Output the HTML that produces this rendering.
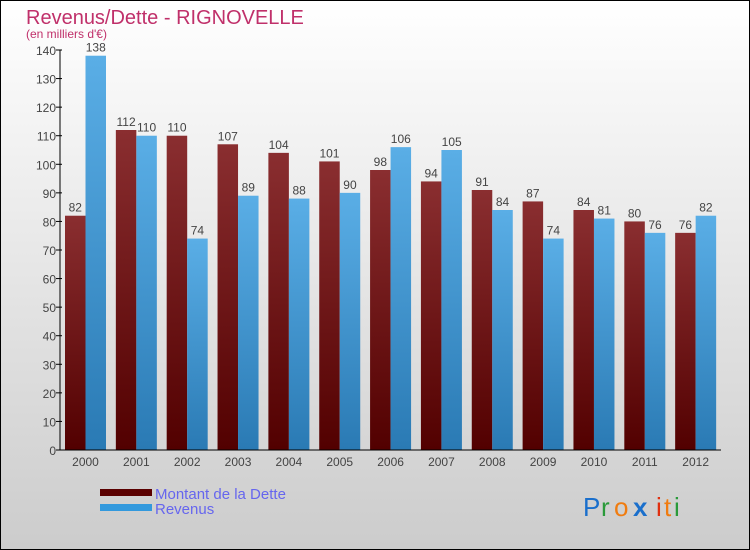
<!DOCTYPE html>
<html><head><meta charset="utf-8"><style>
body{margin:0}
#c{width:750px;height:550px;position:relative;overflow:hidden;font-family:"Liberation Sans",sans-serif}
</style></head><body>
<div id="c">
<svg id="s" width="750" height="550" xmlns="http://www.w3.org/2000/svg">
<defs>
<linearGradient id="bg" x1="0" y1="0" x2="0" y2="1"><stop offset="0" stop-color="#ffffff"/><stop offset="1" stop-color="#cccccc"/></linearGradient>
<linearGradient id="gd" x1="0" y1="0" x2="0" y2="1"><stop offset="0" stop-color="#8a2e30"/><stop offset="1" stop-color="#520000"/></linearGradient>
<linearGradient id="gr" x1="0" y1="0" x2="0" y2="1"><stop offset="0" stop-color="#5aaee6"/><stop offset="1" stop-color="#2a7ab4"/></linearGradient>
</defs>
<rect x="0.5" y="0.5" width="749" height="549" fill="url(#bg)" stroke="#000"/>
<text x="26" y="24" font-size="20" fill="#c0306a">Revenus/Dette - RIGNOVELLE</text>
<text x="26" y="38" font-size="12" fill="#c0306a">(en milliers d'€)</text>
<g id="plot"></g>
<rect x="100" y="489" width="52" height="7" fill="#5a0000"/>
<rect x="100" y="504" width="52" height="7" fill="#3399dd"/>
<text x="155" y="499" font-size="15" fill="#6666ee">Montant de la Dette</text>
<text x="155" y="514" font-size="15" fill="#6666ee">Revenus</text>
<text y="516" font-size="26" font-family="Liberation Sans,sans-serif"><tspan x="583" fill="#1a6fcc">P</tspan><tspan x="601" fill="#2a9a3a">r</tspan><tspan x="614" fill="#f07c10">o</tspan><tspan x="633" fill="#1a6fcc" font-weight="bold">x</tspan><tspan x="656" fill="#e03010">i</tspan><tspan x="664" fill="#f07c10">t</tspan><tspan x="674" fill="#2a9a3a">i</tspan></text>
</svg>
</div>
<script>
const years=["2000","2001","2002","2003","2004","2005","2006","2007","2008","2009","2010","2011","2012"];
const dette=[82,112,110,107,104,101,98,94,91,87,84,80,76];
const revenus=[138,110,74,89,88,90,106,105,84,74,81,76,82];
const ticks=[0,10,20,30,40,50,60,70,80,90,100,110,120,130,140];
const NS="http://www.w3.org/2000/svg";
const g=document.getElementById('plot');
const x0=60,x1=721,y0=450,yMax=140,ph=400;
const step=(x1-x0)/years.length;
function y(v){return y0-v/yMax*ph;}
function mk(t,a){const e=document.createElementNS(NS,t);for(const k in a)e.setAttribute(k,a[k]);g.appendChild(e);return e;}
ticks.forEach(t=>{
 const l=mk('line',{x1:x0-4,x2:x0+2,y1:y(t),y2:y(t),stroke:'#000'});
 
 
 const tx=mk('text',{x:x0-4,y:y(t)+5,'text-anchor':'end','font-size':12,fill:'#444'});
 tx.textContent=t;
 
 
});
years.forEach((yr,i)=>{
 const bx=x0+i*step+5, w=20.5;
 const d=mk('rect',{x:bx,y:y(dette[i]),width:w,height:y0-y(dette[i]),fill:'url(#gd)'});
 
 
 const r=mk('rect',{x:bx+w,y:y(revenus[i]),width:w,height:y0-y(revenus[i]),fill:'url(#gr)'});
 
 
 const t1=mk('text',{x:bx+w/2,y:y(dette[i])-4,'text-anchor':'middle','font-size':12,fill:'#444'});
 t1.textContent=dette[i];
 
 
 const t2=mk('text',{x:bx+w*1.5,y:y(revenus[i])-4,'text-anchor':'middle','font-size':12,fill:'#444'});
 t2.textContent=revenus[i];
 
 
 const xl=mk('text',{x:bx+w,y:y0+16,'text-anchor':'middle','font-size':12,fill:'#444'});
 xl.textContent=yr;
 
 
});
const ya=mk('line',{x1:x0,x2:x0,y1:y(yMax),y2:y0,stroke:'#000'});


const xa=mk('line',{x1:x0,x2:x1,y1:y0,y2:y0,stroke:'#000'});


</script>
</body></html>
